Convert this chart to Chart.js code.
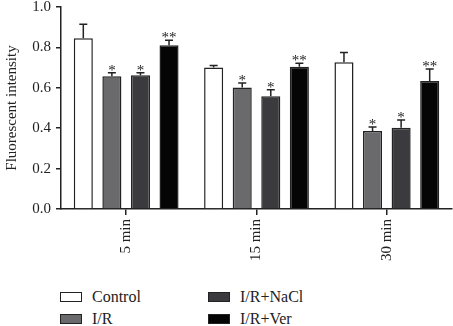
<!DOCTYPE html>
<html>
<head>
<meta charset="utf-8">
<script src="https://cdn.jsdelivr.net/npm/chart.js@4/dist/chart.umd.min.js"></script>
<style>
  html, body { margin: 0; padding: 0; background: #fff; overflow: hidden; }
  #wrap { position: relative; width: 453px; height: 326px; overflow: hidden; }
  #box { position: absolute; left: 0; top: -7px; width: 453px; height: 292px; }
  .lg { position: absolute; font-family: 'Liberation Serif', 'DejaVu Serif', serif; font-size: 16px; color: #222; line-height: 16px; }
  .lg span.sw { position: absolute; left: 0; top: 3px; width: 20px; height: 8px; border: 1.5px solid #222; }
  .lg span.tx { position: absolute; left: 32px; top: 0; white-space: nowrap; }
</style>
</head>
<body>
<div id="wrap">
  <div id="box"><canvas id="c"></canvas></div>
  <div id="legend"></div>
</div>
<script>
const categories = ['5 min', '15 min', '30 min'];
const seriesNames = ['Control', 'I/R', 'I/R+NaCl', 'I/R+Ver'];
const control = [0.845, 0.701, 0.727];
const controlErr = [0.070, 0.010, 0.048];
const ir = [0.657, 0.601, 0.386];
const irErr = [0.018, 0.023, 0.020];
const nacl = [0.662, 0.558, 0.402];
const naclErr = [0.013, 0.032, 0.038];
const ver = [0.811, 0.704, 0.634];
const verErr = [0.025, 0.018, 0.059];
const marks = ['', '*', '*', '**'];
const yTicks = [0, 0.2, 0.4, 0.6, 0.8, 1.0];

const fills = ['#ffffff', '#6a6a6c', '#3b3b3f', '#050505'];
const values = [control, ir, nacl, ver];
const errors = [controlErr, irErr, naclErr, verErr];
const serif = "'Liberation Serif', 'DejaVu Serif', serif";
const ink = '#222';

// error bars and significance stars
const errorBars = {
    id: 'errorBars',
    afterDatasetsDraw(chart) {
        const ctx = chart.ctx;
        const y = chart.scales.y;
        ctx.save();
        ctx.strokeStyle = ink;
        ctx.fillStyle = ink;
        ctx.lineWidth = 1.5;
        ctx.font = '15px ' + serif;
        ctx.textAlign = 'center';
        ctx.textBaseline = 'alphabetic';
        chart.data.datasets.forEach((ds, i) => {
            chart.getDatasetMeta(i).data.forEach((bar, j) => {
                const top = y.getPixelForValue(ds.data[j]);
                const tip = y.getPixelForValue(ds.data[j] + errors[i][j]);
                ctx.beginPath();
                ctx.moveTo(bar.x, top);
                ctx.lineTo(bar.x, tip);
                ctx.moveTo(bar.x - 4, tip);
                ctx.lineTo(bar.x + 4, tip);
                ctx.stroke();
                if (marks[i]) ctx.fillText(marks[i], bar.x, tip + 2);
            });
        });
        ctx.restore();
    }
};

new Chart(document.getElementById('c'), {
    type: 'bar',
    data: {
        labels: categories,
        datasets: seriesNames.map((name, i) => ({
            label: name,
            data: values[i],
            backgroundColor: fills[i],
            borderColor: ink,
            borderWidth: 1.5,
            categoryPercentage: 0.877,
            barPercentage: 0.667
        }))
    },
    options: {
        responsive: true,
        maintainAspectRatio: false,
        animation: false,
        layout: { padding: { top: 0, right: 1, left: 0, bottom: 0 } },
        plugins: {
            legend: { display: false },
            tooltip: { enabled: false }
        },
        scales: {
            x: {
                afterFit(s) { s.height = 76; },
                grid: { display: true, drawOnChartArea: false, offset: false, tickLength: 6, color: ink, lineWidth: 1.5 },
                border: { color: ink, width: 1.5 },
                ticks: {
                    color: ink,
                    font: { family: serif, size: 15 },
                    maxRotation: 90,
                    minRotation: 90,
                    padding: 4
                }
            },
            y: {
                min: 0,
                max: 1,
                afterFit(s) { s.width = 61; },
                afterBuildTicks(s) { s.ticks = yTicks.map(v => ({ value: v })); },
                grid: { display: true, drawOnChartArea: false, tickLength: 5, color: ink, lineWidth: 1.5 },
                border: { color: ink, width: 1.5 },
                title: {
                    display: true,
                    text: 'Fluorescent intensity',
                    color: ink,
                    font: { family: serif, size: 15 },
                    padding: { top: 3, bottom: 2 }
                },
                ticks: {
                    color: ink,
                    font: { family: serif, size: 15 },
                    padding: 5,
                    callback: v => v.toFixed(1)
                }
            }
        }
    },
    plugins: [errorBars]
});

// legend: two columns, column-major like the original
const legendPos = [[60, 293], [60, 315], [208, 293], [208, 315]];
const legend = document.getElementById('legend');
seriesNames.forEach((name, i) => {
    const el = document.createElement('div');
    el.className = 'lg';
    el.style.left = legendPos[i][0] + 'px';
    el.style.top = (legendPos[i][1] - 4) + 'px';
    el.innerHTML = '<span class="sw" style="background:' + fills[i] + '"></span><span class="tx"></span>';
    el.querySelector('.tx').textContent = name;
    legend.appendChild(el);
});
</script>
</body>
</html>
